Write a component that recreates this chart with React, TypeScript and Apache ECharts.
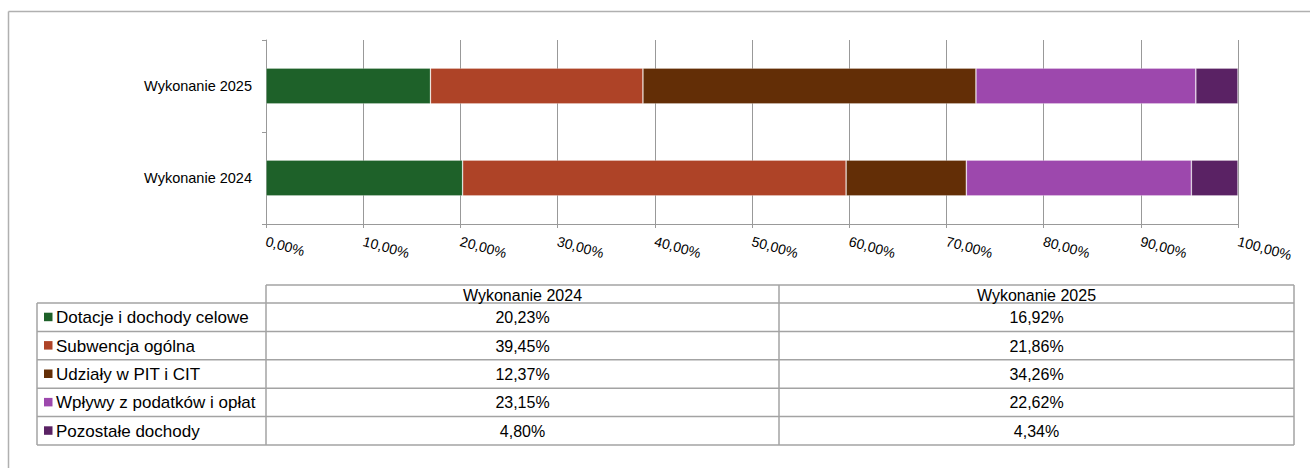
import React, { useEffect, useRef } from "react";
import * as echarts from "echarts";

const categories = ["Wykonanie 2024", "Wykonanie 2025"];
const seriesNames = [
  "Dotacje i dochody celowe",
  "Subwencja ogólna",
  "Udziały w PIT i CIT",
  "Wpływy z podatków i opłat",
  "Pozostałe dochody",
];
const values2024 = [20.23, 39.45, 12.37, 23.15, 4.8];
const values2025 = [16.92, 21.86, 34.26, 22.62, 4.34];
const colors = ["#1E6129", "#AE4327", "#632E06", "#9D48AD", "#5A2264"];

const FONT = "'Liberation Sans', Arial, sans-serif";
const fmt = (v: number) => v.toFixed(2).replace(".", ",") + "%";

export default function App() {
  const ref = useRef<HTMLDivElement>(null);
  useEffect(() => {
    if (!ref.current) return;
    const chart = echarts.init(ref.current, null, { renderer: "svg" });

    const lineColor = "#a3a3a3";
    const colX = [37, 266, 779, 1294];
    const headerTop = 285;
    const rowTop = 303;
    const rowH = 28.4;
    const nRows = seriesNames.length;
    const bottom = rowTop + rowH * nRows;
    const g: any[] = [];
    const L = (x1: number, y1: number, x2: number, y2: number, w = 1.5, c = lineColor) =>
      g.push({ type: "line", shape: { x1, y1, x2, y2 }, style: { stroke: c, lineWidth: w }, silent: true });

    // outer frame (left and top)
    L(8.5, 11.5, 1310, 11.5, 1.5, "#b0b0b0");
    L(8.5, 11.5, 8.5, 468, 1.5, "#b0b0b0");

    // table lines
    L(colX[1], headerTop, colX[3], headerTop);
    for (let i = 0; i <= nRows; i++) L(colX[0], rowTop + rowH * i, colX[3], rowTop + rowH * i);
    L(colX[0], rowTop, colX[0], bottom);
    for (let j = 1; j < 4; j++) L(colX[j], headerTop, colX[j], bottom);

    // headers
    categories.forEach((c, j) => {
      g.push({
        type: "text",
        x: (colX[j + 1] + colX[j + 2]) / 2,
        y: (headerTop + rowTop) / 2 + 1,
        style: { text: c, fontSize: 16, fontFamily: FONT, fill: "#000", align: "center", verticalAlign: "middle" },
        silent: true,
      });
    });
    const cols = [values2024, values2025];
    seriesNames.forEach((name, i) => {
      const cy = rowTop + rowH * i + rowH / 2;
      g.push({ type: "rect", shape: { x: 44, y: cy - 4.5, width: 8.5, height: 8.5 }, style: { fill: colors[i] }, silent: true });
      g.push({
        type: "text",
        x: 56,
        y: cy + 0.5,
        style: { text: name, fontSize: 17, fontFamily: FONT, fill: "#000", align: "left", verticalAlign: "middle" },
        silent: true,
      });
      cols.forEach((vals, j) => {
        g.push({
          type: "text",
          x: (colX[j + 1] + colX[j + 2]) / 2,
          y: cy + 0.5,
          style: { text: fmt(vals[i]), fontSize: 16, fontFamily: FONT, fill: "#000", align: "center", verticalAlign: "middle" },
          silent: true,
        });
      });
    });

    chart.setOption({
      animation: false,
      textStyle: { fontFamily: FONT },
      grid: { left: 266, right: 72, top: 40, bottom: 244, containLabel: false },
      xAxis: {
        type: "value",
        min: 0,
        max: 100,
        interval: 10,
        axisLine: { show: true, lineStyle: { color: "#999", width: 1 } },
        axisTick: { show: true, length: 4, lineStyle: { color: "#999" } },
        splitLine: { show: true, lineStyle: { color: "#999", width: 1 } },
        axisLabel: {
          formatter: (v: number) => fmt(v),
          rotate: -15,
          margin: 17,
          fontSize: 14,
          color: "#000",
          fontFamily: FONT,
          fontStyle: "normal",
        },
      },
      yAxis: {
        type: "category",
        data: categories,
        axisLine: { show: true, lineStyle: { color: "#999", width: 1 } },
        axisTick: { show: true, length: 4, lineStyle: { color: "#999" } },
        axisLabel: { margin: 14, fontSize: 14.5, color: "#000", fontFamily: FONT },
      },
      series: seriesNames.map((name, i) => ({
        name,
        type: "bar",
        stack: "total",
        barWidth: "39%",
        data: [values2024[i], values2025[i]],
        itemStyle: { color: colors[i], borderColor: "rgba(255,255,255,0.3)", borderWidth: 0.8 },
      })),
      graphic: g,
    });
    return () => chart.dispose();
  }, []);
  return <div ref={ref} style={{ position: "absolute", left: 0, top: 0, width: 1310, height: 468 }} />;
}
